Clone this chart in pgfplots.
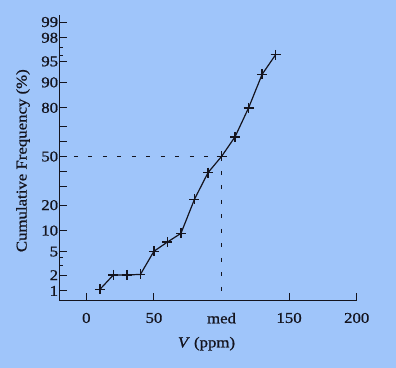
\documentclass[border=0pt]{standalone}
\usepackage{pgfplots}
\pgfplotsset{compat=1.18}
\usepackage{fontspec}
\setmainfont{Liberation Serif}[FakeStretch=1.12, FakeBold=0.8]
\definecolor{bg}{RGB}{159,197,250}
\definecolor{ink}{RGB}{20,20,30}
\begin{document}
\fontsize{15bp}{17bp}\selectfont
\begin{tikzpicture}
\fill[bg] (0,0) rectangle (396bp,368bp);
\useasboundingbox (0,0) rectangle (396bp,368bp);
\begin{axis}[
  scale only axis, width=297.4bp, height=285.7bp,
  at={(59.3bp,67.3bp)}, anchor=south west,
  xmin=-20, xmax=200, ymin=-2.495, ymax=2.448,
  axis x line=bottom, axis y line=left,
  axis line style={-, ink, line width=1.1bp},
  xtick align=inside, ytick align=inside,
  major tick length=7.5bp, minor tick length=4bp,
  tick style={ink, line width=1bp},
  /pgf/number format/assume math mode=true,
  xtick={0,50,150,200},
  xticklabels={0,50,150,200},
  extra x ticks={100}, extra x tick labels={med},
  extra x tick style={major tick length=0pt},
  xticklabel style={inner ysep=0pt, yshift=-12bp, text=ink},
  ytick={-2.3263,-2.0537,-1.6449,-1.2816,-0.8416,-0.5244,-0.2533,0,0.2533,0.5244,0.8416,1.2816,1.6449,2.0537,2.3263},
  yticklabels={1,2,5,10,20,,,50,,,80,90,95,98,99},
  minor ytick={-1.8808,-1.7507,1.7507,1.8808},
  yticklabel style={inner xsep=0pt, xshift=-1bp, text=ink},
  xlabel={\textit{V} (ppm)},
  xlabel style={at={(axis description cs:0.495,0)}, anchor=north, inner sep=0pt, yshift=-36bp, text=ink},
  ylabel={Cumulative Frequency (\%)},
  ylabel style={at={(axis description cs:-0.0985,0.49)}, rotate=0, anchor=south, inner sep=0pt, text=ink},
  clip=false,
]
\addplot[ink, line width=0.9bp, dash pattern=on 4bp off 10.5bp] coordinates {(-20,0) (100,0)};
\addplot[ink, line width=0.9bp, dash pattern=on 4bp off 10.5bp] coordinates {(100,0) (100,-2.495)};
\addplot[ink, line width=1.2bp, mark=+, mark size=5bp, mark options={line width=1.4bp, solid}] coordinates {
(10,-2.30) (20,-2.05) (30,-2.05) (40,-2.04) (50,-1.64) (60,-1.48) (70,-1.33)
(80,-0.74) (90,-0.28) (100,0.0) (110,0.34) (120,0.84) (130,1.42) (140,1.76)
};
\end{axis}
\end{tikzpicture}
\end{document}
